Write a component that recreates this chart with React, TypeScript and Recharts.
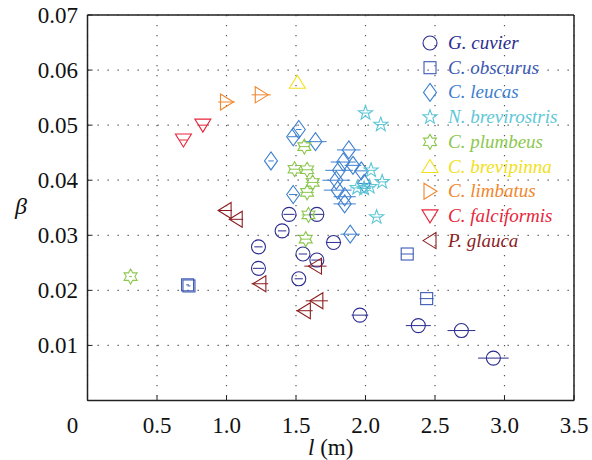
import React from "react";
import {
  CartesianGrid,
  ErrorBar,
  Legend,
  Scatter,
  ScatterChart,
  XAxis,
  YAxis,
} from "recharts";

// each point: [length l (m), beta, half-width of the horizontal error bar]
type Pt = [number, number, number];

const cuvier: Pt[] = [
  [1.45, 0.0338, 0.04],
  [1.65, 0.0338, 0.05],
  [1.4, 0.0308, 0.03],
  [1.23, 0.0279, 0.03],
  [1.55, 0.0266, 0.03],
  [1.23, 0.024, 0.04],
  [1.65, 0.0255, 0.04],
  [1.52, 0.0221, 0.03],
  [1.77, 0.0287, 0.055],
  [1.96, 0.0155, 0.06],
  [2.38, 0.0136, 0.09],
  [2.69, 0.0127, 0.1],
  [2.92, 0.0077, 0.11],
];
const obscurus: Pt[] = [
  [0.72, 0.021, 0.01],
  [0.73, 0.0208, 0.01],
  [2.3, 0.0266, 0.045],
  [2.44, 0.0185, 0.05],
];
const leucas: Pt[] = [
  [1.32, 0.0435, 0.02],
  [1.48, 0.0479, 0.04],
  [1.52, 0.0492, 0.02],
  [1.64, 0.047, 0.08],
  [1.48, 0.0374, 0.03],
  [1.88, 0.0455, 0.085],
  [1.84, 0.0433, 0.09],
  [1.91, 0.0427, 0.06],
  [1.81, 0.0418, 0.1],
  [1.97, 0.0417, 0.05],
  [1.79, 0.04, 0.1],
  [1.99, 0.0394, 0.05],
  [1.8, 0.0382, 0.1],
  [1.85, 0.037, 0.08],
  [1.85, 0.0357, 0.08],
  [1.89, 0.0302, 0.07],
];
const brevirostris: Pt[] = [
  [2.0, 0.0522, 0.03],
  [2.11, 0.0501, 0.03],
  [2.04, 0.0418, 0.03],
  [2.12, 0.0397, 0.04],
  [1.94, 0.0386, 0.05],
  [1.99, 0.0385, 0.05],
  [2.03, 0.0388, 0.04],
  [2.08, 0.0333, 0.03],
];
const plumbeus: Pt[] = [
  [0.31, 0.0225, 0.01],
  [1.57, 0.0293, 0.04],
  [1.59, 0.0337, 0.05],
  [1.58, 0.0378, 0.05],
  [1.62, 0.0396, 0.05],
  [1.58, 0.0419, 0.05],
  [1.49, 0.042, 0.04],
  [1.56, 0.0461, 0.04],
];
const brevipinna: Pt[] = [[1.51, 0.0578, 0]];
const limbatus: Pt[] = [
  [1.0, 0.0542, 0.06],
  [1.25, 0.0555, 0.07],
];
const falciformis: Pt[] = [
  [0.69, 0.0473, 0.03],
  [0.83, 0.05, 0.03],
];
const glauca: Pt[] = [
  [0.99, 0.0345, 0.05],
  [1.07, 0.0329, 0.05],
  [1.24, 0.0212, 0.06],
  [1.64, 0.0244, 0.08],
  [1.56, 0.0163, 0.06],
  [1.65, 0.0181, 0.08],
];

const xTicks = [0, 0.5, 1, 1.5, 2, 2.5, 3, 3.5];
const yTicks = [0, 0.01, 0.02, 0.03, 0.04, 0.05, 0.06, 0.07];

type Kind = "circle" | "square" | "diamond" | "pentagram" | "hexagram" | "up" | "right" | "down" | "left";

const species: { name: string; kind: Kind; color: string; pts: Pt[] }[] = [
  { name: "G. cuvier", kind: "circle", color: "#2c2d8f", pts: cuvier },
  { name: "C. obscurus", kind: "square", color: "#3c59b4", pts: obscurus },
  { name: "C. leucas", kind: "diamond", color: "#3d80cf", pts: leucas },
  { name: "N. brevirostris", kind: "pentagram", color: "#5ec7d6", pts: brevirostris },
  { name: "C. plumbeus", kind: "hexagram", color: "#8cc84e", pts: plumbeus },
  { name: "C. brevipinna", kind: "up", color: "#f2e01c", pts: brevipinna },
  { name: "C. limbatus", kind: "right", color: "#f0862c", pts: limbatus },
  { name: "C. falciformis", kind: "down", color: "#e8253a", pts: falciformis },
  { name: "P. glauca", kind: "left", color: "#8c1d1f", pts: glauca },
];

const serif = "Liberation Serif, DejaVu Serif, serif";

function starPath(cx: number, cy: number, n: number, ro: number, ri: number) {
  let d = "";
  for (let i = 0; i < n * 2; i++) {
    const r = i % 2 === 0 ? ro : ri;
    const a = -Math.PI / 2 + (i * Math.PI) / n;
    d += `${i === 0 ? "M" : "L"}${cx + r * Math.cos(a)},${cy + r * Math.sin(a)}`;
  }
  return d + "Z";
}

function Marker({ kind, cx, cy, color }: { kind: Kind; cx: number; cy: number; color: string }) {
  const st = { fill: "none", stroke: color, strokeWidth: 1.1 };
  switch (kind) {
    case "circle":
      return <circle cx={cx} cy={cy} r={7} {...st} />;
    case "square":
      return <rect x={cx - 6} y={cy - 6} width={12} height={12} {...st} />;
    case "diamond":
      return <path d={`M${cx},${cy - 9}L${cx + 6.5},${cy}L${cx},${cy + 9}L${cx - 6.5},${cy}Z`} {...st} />;
    case "pentagram":
      return <path d={starPath(cx, cy, 5, 7.5, 3)} {...st} />;
    case "hexagram":
      return <path d={starPath(cx, cy, 6, 7.5, 4.3)} {...st} />;
    case "up":
      return <path d={`M${cx},${cy - 7}L${cx + 8},${cy + 6}L${cx - 8},${cy + 6}Z`} {...st} />;
    case "down":
      return <path d={`M${cx},${cy + 7}L${cx + 8},${cy - 6}L${cx - 8},${cy - 6}Z`} {...st} />;
    case "right":
      return <path d={`M${cx + 7},${cy}L${cx - 6},${cy - 8}L${cx - 6},${cy + 8}Z`} {...st} />;
    default:
      return <path d={`M${cx - 7},${cy}L${cx + 6},${cy - 8}L${cx + 6},${cy + 8}Z`} {...st} />;
  }
}

const XTick = ({ x, y, payload }: any) => {
  const v = payload.value as number;
  return (
    <text x={x + (v === 0 ? -15 : 0)} y={y} textAnchor="middle" fontFamily={serif} fontSize={23} fill="#111">
      {v === 0 ? "0" : v.toFixed(1)}
    </text>
  );
};

const YTick = ({ x, y, payload }: any) => {
  const v = payload.value as number;
  if (v === 0) return null;
  return (
    <text x={x} y={y} dy="0.34em" textAnchor="end" fontFamily={serif} fontSize={23} fill="#111">
      {v.toFixed(2)}
    </text>
  );
};

const XTitle = ({ viewBox }: any) => {
  const vb = viewBox || { x: 87.5, y: 400.5, width: 486.5 };
  return (
    <text x={vb.x + vb.width / 2} y={vb.y + 54} textAnchor="middle" fontFamily={serif} fontSize={23} fill="#111">
      <tspan fontStyle="italic">l</tspan>
      <tspan> (m)</tspan>
    </text>
  );
};

const YTitle = ({ viewBox }: any) => {
  const vb = viewBox || { y: 15, height: 385.5 };
  return (
    <text x={21} y={vb.y + vb.height / 2 + 6} textAnchor="middle" fontFamily={serif} fontSize={24} fontStyle="italic" fill="#111">
      β
    </text>
  );
};

const LegendBox = () => (
  <svg width={175} height={230} style={{ overflow: "visible" }}>
    {species.map((s, i) => {
      const cy = 13 + i * 24.7;
      return (
        <g key={s.name}>
          <Marker kind={s.kind} cx={12} cy={cy} color={s.color} />
          <text x={30} y={cy + 6} fontFamily={serif} fontSize={19} fontStyle="italic" fill={s.color}>
            {s.name}
          </text>
        </g>
      );
    })}
  </svg>
);

export default function App() {
  return (
    <div style={{ position: "absolute", left: 0, top: 0, background: "#fff" }}>
      <ScatterChart width={592} height={460} margin={{ top: 14, right: 17, bottom: 14.5, left: 7.5 }}>
        <CartesianGrid stroke="#555" strokeWidth={1.2} strokeDasharray="1.3 8.7" />
        <XAxis
          type="number"
          dataKey="l"
          domain={[0, 3.5]}
          ticks={xTicks}
          allowDataOverflow
          height={45}
          tickSize={-5}
          tickMargin={37}
          tick={<XTick />}
          axisLine={{ stroke: "#222", strokeWidth: 1.5 }}
          tickLine={{ stroke: "#222" }}
          label={<XTitle />}
        />
        <YAxis
          type="number"
          dataKey="beta"
          domain={[0, 0.07]}
          ticks={yTicks}
          allowDataOverflow
          width={80}
          tickSize={-5}
          tickMargin={14.5}
          tick={<YTick />}
          axisLine={{ stroke: "#222", strokeWidth: 1.5 }}
          tickLine={{ stroke: "#222" }}
          label={<YTitle />}
        />
        <XAxis
          xAxisId="top"
          orientation="top"
          type="number"
          domain={[0, 3.5]}
          ticks={xTicks}
          allowDataOverflow
          height={1}
          tickSize={-5}
          tick={false}
          axisLine={{ stroke: "#222", strokeWidth: 1.5 }}
          tickLine={{ stroke: "#222" }}
        />
        <YAxis
          yAxisId="right"
          orientation="right"
          type="number"
          domain={[0, 0.07]}
          ticks={yTicks}
          allowDataOverflow
          width={1}
          tickSize={-5}
          tick={false}
          axisLine={{ stroke: "#222", strokeWidth: 1.5 }}
          tickLine={{ stroke: "#222" }}
        />
        {species.map((s) => (
          <Scatter
            key={s.name}
            name={s.name}
            data={s.pts.map(([l, beta, dl]) => ({ l, beta, dl }))}
            isAnimationActive={false}
            shape={(p: any) => <Marker kind={s.kind} cx={p.cx} cy={p.cy} color={s.color} />}
          >
            <ErrorBar dataKey="dl" direction="x" width={0} stroke={s.color} strokeWidth={1} />
          </Scatter>
        ))}
        <Legend
          layout="vertical"
          align="center"
          verticalAlign="middle"
          content={<LegendBox />}
          wrapperStyle={{ left: 418, top: 30, width: 175, height: 230 }}
        />
      </ScatterChart>
    </div>
  );
}
